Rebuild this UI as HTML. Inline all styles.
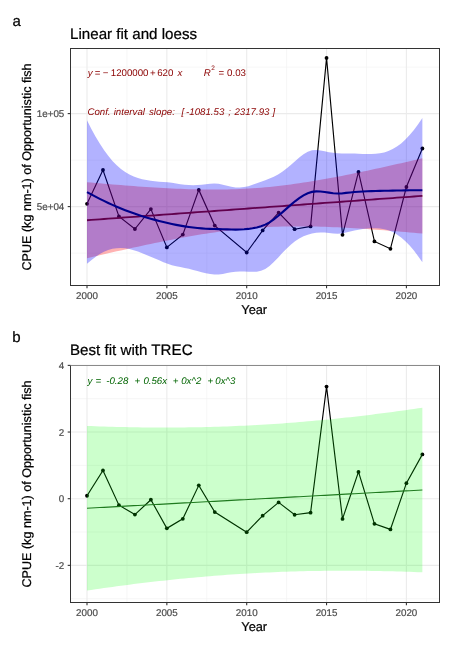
<!DOCTYPE html><html><head><meta charset="utf-8"><style>html,body{margin:0;padding:0;background:#fff}svg{display:block;will-change:transform}text{font-family:"Liberation Sans",sans-serif;text-rendering:geometricPrecision}</style></head><body>
<svg width="452" height="646" viewBox="0 0 452 646">
<rect width="452" height="646" fill="#fff"/>
<defs><clipPath id="c1"><rect x="70.5" y="48.5" width="369.0" height="237.0"/></clipPath></defs>
<line x1="70.5" x2="439.5" y1="67.10" y2="67.10" stroke="#f0f0f0" stroke-width="0.6"/>
<line x1="70.5" x2="439.5" y1="160.10" y2="160.10" stroke="#f0f0f0" stroke-width="0.6"/>
<line x1="70.5" x2="439.5" y1="253.10" y2="253.10" stroke="#f0f0f0" stroke-width="0.6"/>
<line y1="48.5" y2="285.5" x1="126.93" x2="126.93" stroke="#f0f0f0" stroke-width="0.6"/>
<line y1="48.5" y2="285.5" x1="206.78" x2="206.78" stroke="#f0f0f0" stroke-width="0.6"/>
<line y1="48.5" y2="285.5" x1="286.62" x2="286.62" stroke="#f0f0f0" stroke-width="0.6"/>
<line y1="48.5" y2="285.5" x1="366.48" x2="366.48" stroke="#f0f0f0" stroke-width="0.6"/>
<line x1="70.5" x2="439.5" y1="113.60" y2="113.60" stroke="#ebebeb" stroke-width="1.1"/>
<line x1="70.5" x2="439.5" y1="206.60" y2="206.60" stroke="#ebebeb" stroke-width="1.1"/>
<line y1="48.5" y2="285.5" x1="87.00" x2="87.00" stroke="#ebebeb" stroke-width="1.1"/>
<line y1="48.5" y2="285.5" x1="166.85" x2="166.85" stroke="#ebebeb" stroke-width="1.1"/>
<line y1="48.5" y2="285.5" x1="246.70" x2="246.70" stroke="#ebebeb" stroke-width="1.1"/>
<line y1="48.5" y2="285.5" x1="326.55" x2="326.55" stroke="#ebebeb" stroke-width="1.1"/>
<line y1="48.5" y2="285.5" x1="406.40" x2="406.40" stroke="#ebebeb" stroke-width="1.1"/>
<g clip-path="url(#c1)">
<polyline points="87.00,203.80 102.97,170.00 118.94,216.40 134.91,229.00 150.88,209.10 166.85,247.40 182.82,234.60 198.79,189.90 214.76,225.60 246.70,252.50 262.67,230.40 278.64,212.70 294.61,229.20 310.58,226.40 326.55,57.90 342.52,234.80 358.49,171.90 374.46,241.40 390.43,248.80 406.40,187.00 422.37,148.50" fill="none" stroke="#000" stroke-width="1.15"/>
<circle cx="87.00" cy="203.80" r="1.9" fill="#000"/>
<circle cx="102.97" cy="170.00" r="1.9" fill="#000"/>
<circle cx="118.94" cy="216.40" r="1.9" fill="#000"/>
<circle cx="134.91" cy="229.00" r="1.9" fill="#000"/>
<circle cx="150.88" cy="209.10" r="1.9" fill="#000"/>
<circle cx="166.85" cy="247.40" r="1.9" fill="#000"/>
<circle cx="182.82" cy="234.60" r="1.9" fill="#000"/>
<circle cx="198.79" cy="189.90" r="1.9" fill="#000"/>
<circle cx="214.76" cy="225.60" r="1.9" fill="#000"/>
<circle cx="246.70" cy="252.50" r="1.9" fill="#000"/>
<circle cx="262.67" cy="230.40" r="1.9" fill="#000"/>
<circle cx="278.64" cy="212.70" r="1.9" fill="#000"/>
<circle cx="294.61" cy="229.20" r="1.9" fill="#000"/>
<circle cx="310.58" cy="226.40" r="1.9" fill="#000"/>
<circle cx="326.55" cy="57.90" r="1.9" fill="#000"/>
<circle cx="342.52" cy="234.80" r="1.9" fill="#000"/>
<circle cx="358.49" cy="171.90" r="1.9" fill="#000"/>
<circle cx="374.46" cy="241.40" r="1.9" fill="#000"/>
<circle cx="390.43" cy="248.80" r="1.9" fill="#000"/>
<circle cx="406.40" cy="187.00" r="1.9" fill="#000"/>
<circle cx="422.37" cy="148.50" r="1.9" fill="#000"/>
<path d="M87.00,182.19 91.25,182.58 95.49,182.96 99.74,183.33 103.98,183.70 108.23,184.06 112.47,184.42 116.72,184.76 120.96,185.11 125.21,185.44 129.45,185.77 133.70,186.08 137.94,186.39 142.19,186.69 146.43,186.98 150.68,187.26 154.92,187.53 159.17,187.78 163.41,188.02 167.66,188.25 171.90,188.46 176.15,188.66 180.39,188.84 184.64,189.00 188.88,189.15 193.13,189.27 197.37,189.37 201.62,189.46 205.87,189.51 210.11,189.55 214.36,189.55 218.60,189.54 222.85,189.49 227.09,189.41 231.34,189.31 235.58,189.17 239.83,189.00 244.07,188.80 248.32,188.57 252.56,188.31 256.81,188.01 261.05,187.67 265.30,187.31 269.54,186.91 273.79,186.48 278.03,186.01 282.28,185.52 286.52,184.99 290.77,184.44 295.01,183.86 299.26,183.25 303.50,182.61 307.75,181.95 312.00,181.26 316.24,180.55 320.49,179.82 324.73,179.07 328.98,178.31 333.22,177.52 337.47,176.71 341.71,175.89 345.96,175.06 350.20,174.21 354.45,173.34 358.69,172.47 362.94,171.58 367.18,170.68 371.43,169.77 375.67,168.85 379.92,167.92 384.16,166.98 388.41,166.03 392.65,165.08 396.90,164.11 401.14,163.15 405.39,162.17 409.63,161.19 413.88,160.20 418.12,159.21 422.37,158.21 L422.37,233.53 418.12,233.15 413.88,232.78 409.63,232.41 405.39,232.04 401.14,231.68 396.90,231.33 392.65,230.98 388.41,230.65 384.16,230.32 379.92,229.99 375.67,229.68 371.43,229.38 367.18,229.08 362.94,228.80 358.69,228.53 354.45,228.27 350.20,228.02 345.96,227.79 341.71,227.57 337.47,227.36 333.22,227.17 328.98,227.00 324.73,226.85 320.49,226.72 316.24,226.60 312.00,226.51 307.75,226.44 303.50,226.40 299.26,226.38 295.01,226.39 290.77,226.42 286.52,226.48 282.28,226.57 278.03,226.69 273.79,226.85 269.54,227.03 265.30,227.25 261.05,227.50 256.81,227.78 252.56,228.10 248.32,228.45 244.07,228.84 239.83,229.25 235.58,229.70 231.34,230.18 227.09,230.69 222.85,231.23 218.60,231.80 214.36,232.40 210.11,233.03 205.87,233.68 201.62,234.35 197.37,235.05 193.13,235.77 188.88,236.51 184.64,237.27 180.39,238.05 176.15,238.85 171.90,239.66 167.66,240.49 163.41,241.33 159.17,242.19 154.92,243.06 150.68,243.94 146.43,244.84 142.19,245.74 137.94,246.66 133.70,247.59 129.45,248.52 125.21,249.46 120.96,250.41 116.72,251.37 112.47,252.34 108.23,253.31 103.98,254.29 99.74,255.27 95.49,256.26 91.25,257.26 87.00,258.26 Z" fill="#ff0000" fill-opacity="0.3"/>
<polyline points="87.00,220.23 91.25,219.92 95.49,219.61 99.74,219.30 103.98,218.99 108.23,218.69 112.47,218.38 116.72,218.07 120.96,217.76 125.21,217.45 129.45,217.14 133.70,216.84 137.94,216.53 142.19,216.22 146.43,215.91 150.68,215.60 154.92,215.29 159.17,214.99 163.41,214.68 167.66,214.37 171.90,214.06 176.15,213.75 180.39,213.44 184.64,213.14 188.88,212.83 193.13,212.52 197.37,212.21 201.62,211.90 205.87,211.59 210.11,211.29 214.36,210.98 218.60,210.67 222.85,210.36 227.09,210.05 231.34,209.75 235.58,209.44 239.83,209.13 244.07,208.82 248.32,208.51 252.56,208.20 256.81,207.90 261.05,207.59 265.30,207.28 269.54,206.97 273.79,206.66 278.03,206.35 282.28,206.05 286.52,205.74 290.77,205.43 295.01,205.12 299.26,204.81 303.50,204.50 307.75,204.20 312.00,203.89 316.24,203.58 320.49,203.27 324.73,202.96 328.98,202.65 333.22,202.35 337.47,202.04 341.71,201.73 345.96,201.42 350.20,201.11 354.45,200.80 358.69,200.50 362.94,200.19 367.18,199.88 371.43,199.57 375.67,199.26 379.92,198.96 384.16,198.65 388.41,198.34 392.65,198.03 396.90,197.72 401.14,197.41 405.39,197.11 409.63,196.80 413.88,196.49 418.12,196.18 422.37,195.87" fill="none" stroke="#8b0000" stroke-width="1.8"/>
<path d="M87.00,120.35 91.25,128.68 95.49,136.43 99.74,143.56 103.98,150.05 108.23,155.85 112.47,160.94 116.72,165.33 120.96,169.02 125.21,172.06 129.45,174.52 133.70,176.46 137.94,177.97 142.19,179.13 146.43,180.01 150.68,180.68 154.92,181.20 159.17,181.63 163.41,181.99 167.66,182.33 171.90,182.84 176.15,183.50 180.39,184.19 184.64,184.76 188.88,185.12 193.13,185.20 197.37,185.02 201.62,184.63 205.87,184.16 210.11,183.74 214.36,183.55 218.60,183.84 222.85,184.66 227.09,185.72 231.34,186.72 235.58,187.40 239.83,187.56 244.07,187.12 248.32,186.14 252.56,184.76 256.81,183.19 261.05,181.65 265.30,180.24 269.54,178.62 273.79,176.70 278.03,174.41 282.28,171.70 286.52,168.54 290.77,165.00 295.01,161.26 299.26,157.57 303.50,154.27 307.75,151.73 312.00,150.32 316.24,150.02 320.49,150.47 324.73,151.27 328.98,152.14 333.22,152.86 337.47,153.32 341.71,153.46 345.96,153.38 350.20,153.42 354.45,153.54 358.69,153.71 362.94,153.88 367.18,154.00 371.43,153.98 375.67,153.77 379.92,153.27 384.16,152.38 388.41,151.03 392.65,149.12 396.90,146.58 401.14,143.38 405.39,139.52 409.63,135.02 413.88,129.90 418.12,124.22 422.37,118.00 L422.37,262.36 418.12,256.16 413.88,250.55 409.63,245.54 405.39,241.18 401.14,237.48 396.90,234.46 392.65,232.10 388.41,230.36 384.16,229.17 379.92,228.48 375.67,228.20 371.43,228.25 367.18,228.58 362.94,229.11 358.69,229.80 354.45,230.60 350.20,231.49 345.96,232.44 341.71,233.41 337.47,233.79 333.22,233.54 328.98,233.04 324.73,232.60 320.49,232.45 316.24,232.71 312.00,233.45 307.75,234.67 303.50,236.35 299.26,238.55 295.01,241.34 290.77,244.74 286.52,248.70 282.28,253.09 278.03,257.65 273.79,262.07 269.54,265.98 265.30,269.01 261.05,270.82 256.81,271.64 252.56,271.84 248.32,271.69 244.07,271.50 239.83,271.49 235.58,271.77 231.34,272.35 227.09,273.11 222.85,273.88 218.60,274.41 214.36,274.50 210.11,274.06 205.87,273.22 201.62,272.15 197.37,270.99 193.13,269.88 188.88,268.86 184.64,267.96 180.39,267.12 176.15,266.23 171.90,265.17 167.66,263.80 163.41,262.13 159.17,260.37 154.92,258.55 150.68,256.71 146.43,254.89 142.19,253.15 137.94,251.54 133.70,250.15 129.45,249.04 125.21,248.29 120.96,247.97 116.72,248.14 112.47,248.82 108.23,250.05 103.98,251.81 99.74,254.10 95.49,256.89 91.25,260.14 87.00,263.81 Z" fill="#0000ff" fill-opacity="0.3"/>
<polyline points="87.00,192.08 91.25,194.41 95.49,196.66 99.74,198.83 103.98,200.93 108.23,202.95 112.47,204.88 116.72,206.73 120.96,208.50 125.21,210.18 129.45,211.78 133.70,213.30 137.94,214.76 142.19,216.14 146.43,217.45 150.68,218.70 154.92,219.88 159.17,221.00 163.41,222.06 167.66,223.07 171.90,224.00 176.15,224.87 180.39,225.65 184.64,226.36 188.88,226.99 193.13,227.54 197.37,228.01 201.62,228.39 205.87,228.69 210.11,228.90 214.36,229.02 218.60,229.12 222.85,229.27 227.09,229.42 231.34,229.54 235.58,229.58 239.83,229.52 244.07,229.31 248.32,228.92 252.56,228.30 256.81,227.42 261.05,226.23 265.30,224.62 269.54,222.30 273.79,219.39 278.03,216.03 282.28,212.39 286.52,208.62 290.77,204.87 295.01,201.30 299.26,198.06 303.50,195.31 307.75,193.20 312.00,191.88 316.24,191.37 320.49,191.46 324.73,191.94 328.98,192.59 333.22,193.20 337.47,193.55 341.71,193.43 345.96,192.91 350.20,192.45 354.45,192.07 358.69,191.75 362.94,191.50 367.18,191.29 371.43,191.12 375.67,190.98 379.92,190.87 384.16,190.78 388.41,190.69 392.65,190.61 396.90,190.52 401.14,190.43 405.39,190.35 409.63,190.28 413.88,190.22 418.12,190.19 422.37,190.18" fill="none" stroke="#00008b" stroke-width="2.1"/>
</g>
<path d="M70.0,285.5H440.0M70.5,48.0V286.0M439.5,48.0V286.0" fill="none" stroke="#333" stroke-width="1"/>
<path d="M70.0,48.5H440.0" fill="none" stroke="#333" stroke-width="1"/>
<line y1="285.5" y2="288.3" x1="87.00" x2="87.00" stroke="#333" stroke-width="1.1"/>
<text x="87.00" y="298.80" font-size="9.8" fill="#4d4d4d" stroke="#4d4d4d" stroke-width="0.22" text-anchor="middle">2000</text>
<line y1="285.5" y2="288.3" x1="166.85" x2="166.85" stroke="#333" stroke-width="1.1"/>
<text x="166.85" y="298.80" font-size="9.8" fill="#4d4d4d" stroke="#4d4d4d" stroke-width="0.22" text-anchor="middle">2005</text>
<line y1="285.5" y2="288.3" x1="246.70" x2="246.70" stroke="#333" stroke-width="1.1"/>
<text x="246.70" y="298.80" font-size="9.8" fill="#4d4d4d" stroke="#4d4d4d" stroke-width="0.22" text-anchor="middle">2010</text>
<line y1="285.5" y2="288.3" x1="326.55" x2="326.55" stroke="#333" stroke-width="1.1"/>
<text x="326.55" y="298.80" font-size="9.8" fill="#4d4d4d" stroke="#4d4d4d" stroke-width="0.22" text-anchor="middle">2015</text>
<line y1="285.5" y2="288.3" x1="406.40" x2="406.40" stroke="#333" stroke-width="1.1"/>
<text x="406.40" y="298.80" font-size="9.8" fill="#4d4d4d" stroke="#4d4d4d" stroke-width="0.22" text-anchor="middle">2020</text>
<line x1="67.7" x2="70.5" y1="113.60" y2="113.60" stroke="#333" stroke-width="1.1"/>
<text x="64.3" y="117.10" font-size="9.8" fill="#4d4d4d" stroke="#4d4d4d" stroke-width="0.22" text-anchor="end">1e+05</text>
<line x1="67.7" x2="70.5" y1="206.60" y2="206.60" stroke="#333" stroke-width="1.1"/>
<text x="64.3" y="210.10" font-size="9.8" fill="#4d4d4d" stroke="#4d4d4d" stroke-width="0.22" text-anchor="end">5e+04</text>
<text x="254.20" y="314.40" font-size="12.8" fill="#000" stroke="#000" stroke-width="0.22" text-anchor="middle">Year</text>
<text transform="translate(31,167.00) rotate(-90)" x="0" y="0" font-size="12.6" fill="#000" stroke="#000" stroke-width="0.22" text-anchor="middle">CPUE (kg nm-1) of Opportunistic fish</text>
<text x="12.4" y="25.6" font-size="15" fill="#000" stroke="#000" stroke-width="0.22">a</text>
<text x="70" y="38.9" font-size="15.15" fill="#000" stroke="#000" stroke-width="0.22">Linear fit and loess</text>
<text x="87.8" y="75.6" font-size="9.7" font-style="italic" fill="#8b0000" stroke="#8b0000" stroke-width="0.0">y</text>
<text x="94.8" y="75.6" font-size="9.7" font-style="normal" fill="#8b0000" stroke="#8b0000" stroke-width="0.0">=</text>
<text x="102.7" y="75.6" font-size="9.7" font-style="normal" fill="#8b0000" stroke="#8b0000" stroke-width="0.0">&#8722;</text>
<text x="110.8" y="75.6" font-size="9.7" font-style="normal" fill="#8b0000" stroke="#8b0000" stroke-width="0.0">1200000</text>
<text x="150.1" y="75.6" font-size="9.7" font-style="normal" fill="#8b0000" stroke="#8b0000" stroke-width="0.0">+</text>
<text x="157.2" y="75.6" font-size="9.7" font-style="normal" fill="#8b0000" stroke="#8b0000" stroke-width="0.0">620</text>
<text x="177.6" y="75.6" font-size="9.7" font-style="italic" fill="#8b0000" stroke="#8b0000" stroke-width="0.0">x</text>
<text x="203.7" y="75.6" font-size="9.7" font-style="italic" fill="#8b0000" stroke="#8b0000" stroke-width="0.0">R</text>
<text x="218.4" y="75.6" font-size="9.7" font-style="normal" fill="#8b0000" stroke="#8b0000" stroke-width="0.0">=</text>
<text x="227.1" y="75.6" font-size="9.7" font-style="normal" fill="#8b0000" stroke="#8b0000" stroke-width="0.0">0.03</text>
<text x="211.3" y="69.6" font-size="6.5" fill="#8b0000" stroke="#8b0000" stroke-width="0.0">2</text>
<text x="87.4" y="114.5" font-size="9.7" font-style="italic" fill="#8b0000" stroke="#8b0000" stroke-width="0.0">Conf.</text>
<text x="113.7" y="114.5" font-size="9.7" font-style="italic" fill="#8b0000" stroke="#8b0000" stroke-width="0.0">interval</text>
<text x="149" y="114.5" font-size="9.7" font-style="italic" fill="#8b0000" stroke="#8b0000" stroke-width="0.0">slope:</text>
<text x="181.5" y="114.5" font-size="9.7" font-style="italic" fill="#8b0000" stroke="#8b0000" stroke-width="0.0">[</text>
<text x="186.1" y="114.5" font-size="9.7" font-style="italic" fill="#8b0000" stroke="#8b0000" stroke-width="0.0">-1081.53</text>
<text x="228.3" y="114.5" font-size="9.7" font-style="italic" fill="#8b0000" stroke="#8b0000" stroke-width="0.0">;</text>
<text x="234.4" y="114.5" font-size="9.7" font-style="italic" fill="#8b0000" stroke="#8b0000" stroke-width="0.0">2317.93</text>
<text x="272.5" y="114.5" font-size="9.7" font-style="italic" fill="#8b0000" stroke="#8b0000" stroke-width="0.0">]</text>
<defs><clipPath id="c2"><rect x="70.5" y="365.5" width="369.0" height="237.0"/></clipPath></defs>
<line x1="70.5" x2="439.5" y1="398.71" y2="398.71" stroke="#f0f0f0" stroke-width="0.6"/>
<line x1="70.5" x2="439.5" y1="465.37" y2="465.37" stroke="#f0f0f0" stroke-width="0.6"/>
<line x1="70.5" x2="439.5" y1="532.03" y2="532.03" stroke="#f0f0f0" stroke-width="0.6"/>
<line x1="70.5" x2="439.5" y1="598.69" y2="598.69" stroke="#f0f0f0" stroke-width="0.6"/>
<line y1="365.5" y2="602.5" x1="126.93" x2="126.93" stroke="#f0f0f0" stroke-width="0.6"/>
<line y1="365.5" y2="602.5" x1="206.78" x2="206.78" stroke="#f0f0f0" stroke-width="0.6"/>
<line y1="365.5" y2="602.5" x1="286.62" x2="286.62" stroke="#f0f0f0" stroke-width="0.6"/>
<line y1="365.5" y2="602.5" x1="366.48" x2="366.48" stroke="#f0f0f0" stroke-width="0.6"/>
<line x1="70.5" x2="439.5" y1="365.38" y2="365.38" stroke="#ebebeb" stroke-width="1.1"/>
<line x1="70.5" x2="439.5" y1="432.04" y2="432.04" stroke="#ebebeb" stroke-width="1.1"/>
<line x1="70.5" x2="439.5" y1="498.70" y2="498.70" stroke="#ebebeb" stroke-width="1.1"/>
<line x1="70.5" x2="439.5" y1="565.36" y2="565.36" stroke="#ebebeb" stroke-width="1.1"/>
<line y1="365.5" y2="602.5" x1="87.00" x2="87.00" stroke="#ebebeb" stroke-width="1.1"/>
<line y1="365.5" y2="602.5" x1="166.85" x2="166.85" stroke="#ebebeb" stroke-width="1.1"/>
<line y1="365.5" y2="602.5" x1="246.70" x2="246.70" stroke="#ebebeb" stroke-width="1.1"/>
<line y1="365.5" y2="602.5" x1="326.55" x2="326.55" stroke="#ebebeb" stroke-width="1.1"/>
<line y1="365.5" y2="602.5" x1="406.40" x2="406.40" stroke="#ebebeb" stroke-width="1.1"/>
<g clip-path="url(#c2)">
<polyline points="87.00,495.74 102.97,470.46 118.94,505.17 134.91,514.59 150.88,499.71 166.85,528.36 182.82,518.78 198.79,485.35 214.76,512.05 246.70,532.17 262.67,515.64 278.64,502.40 294.61,514.74 310.58,512.65 326.55,386.61 342.52,518.93 358.49,471.88 374.46,523.87 390.43,529.40 406.40,483.18 422.37,454.38" fill="none" stroke="#000" stroke-width="1.15"/>
<circle cx="87.00" cy="495.74" r="1.9" fill="#000"/>
<circle cx="102.97" cy="470.46" r="1.9" fill="#000"/>
<circle cx="118.94" cy="505.17" r="1.9" fill="#000"/>
<circle cx="134.91" cy="514.59" r="1.9" fill="#000"/>
<circle cx="150.88" cy="499.71" r="1.9" fill="#000"/>
<circle cx="166.85" cy="528.36" r="1.9" fill="#000"/>
<circle cx="182.82" cy="518.78" r="1.9" fill="#000"/>
<circle cx="198.79" cy="485.35" r="1.9" fill="#000"/>
<circle cx="214.76" cy="512.05" r="1.9" fill="#000"/>
<circle cx="246.70" cy="532.17" r="1.9" fill="#000"/>
<circle cx="262.67" cy="515.64" r="1.9" fill="#000"/>
<circle cx="278.64" cy="502.40" r="1.9" fill="#000"/>
<circle cx="294.61" cy="514.74" r="1.9" fill="#000"/>
<circle cx="310.58" cy="512.65" r="1.9" fill="#000"/>
<circle cx="326.55" cy="386.61" r="1.9" fill="#000"/>
<circle cx="342.52" cy="518.93" r="1.9" fill="#000"/>
<circle cx="358.49" cy="471.88" r="1.9" fill="#000"/>
<circle cx="374.46" cy="523.87" r="1.9" fill="#000"/>
<circle cx="390.43" cy="529.40" r="1.9" fill="#000"/>
<circle cx="406.40" cy="483.18" r="1.9" fill="#000"/>
<circle cx="422.37" cy="454.38" r="1.9" fill="#000"/>
<path d="M87.00,425.93 91.25,426.10 95.49,426.25 99.74,426.40 103.98,426.54 108.23,426.67 112.47,426.79 116.72,426.91 120.96,427.01 125.21,427.10 129.45,427.19 133.70,427.26 137.94,427.33 142.19,427.39 146.43,427.44 150.68,427.47 154.92,427.50 159.17,427.52 163.41,427.53 167.66,427.52 171.90,427.51 176.15,427.49 180.39,427.46 184.64,427.41 188.88,427.36 193.13,427.29 197.37,427.22 201.62,427.13 205.87,427.03 210.11,426.93 214.36,426.81 218.60,426.68 222.85,426.54 227.09,426.38 231.34,426.22 235.58,426.04 239.83,425.86 244.07,425.66 248.32,425.45 252.56,425.23 256.81,425.00 261.05,424.76 265.30,424.51 269.54,424.25 273.79,423.97 278.03,423.68 282.28,423.39 286.52,423.08 290.77,422.76 295.01,422.43 299.26,422.08 303.50,421.73 307.75,421.37 312.00,420.99 316.24,420.61 320.49,420.21 324.73,419.80 328.98,419.39 333.22,418.96 337.47,418.52 341.71,418.07 345.96,417.61 350.20,417.14 354.45,416.67 358.69,416.18 362.94,415.68 367.18,415.17 371.43,414.65 375.67,414.12 379.92,413.59 384.16,413.04 388.41,412.48 392.65,411.92 396.90,411.35 401.14,410.76 405.39,410.17 409.63,409.57 413.88,408.96 418.12,408.35 422.37,407.72 L422.37,572.30 418.12,572.14 413.88,571.99 409.63,571.84 405.39,571.70 401.14,571.57 396.90,571.45 392.65,571.33 388.41,571.23 384.16,571.14 379.92,571.05 375.67,570.98 371.43,570.91 367.18,570.85 362.94,570.80 358.69,570.77 354.45,570.74 350.20,570.72 345.96,570.71 341.71,570.72 337.47,570.73 333.22,570.75 328.98,570.78 324.73,570.83 320.49,570.88 316.24,570.95 312.00,571.02 307.75,571.11 303.50,571.21 299.26,571.32 295.01,571.43 290.77,571.57 286.52,571.71 282.28,571.86 278.03,572.02 273.79,572.20 269.54,572.38 265.30,572.58 261.05,572.79 256.81,573.01 252.56,573.24 248.32,573.48 244.07,573.73 239.83,574.00 235.58,574.27 231.34,574.56 227.09,574.86 222.85,575.17 218.60,575.49 214.36,575.82 210.11,576.16 205.87,576.51 201.62,576.88 197.37,577.25 193.13,577.64 188.88,578.03 184.64,578.44 180.39,578.86 176.15,579.28 171.90,579.72 167.66,580.17 163.41,580.63 159.17,581.10 154.92,581.58 150.68,582.07 146.43,582.57 142.19,583.08 137.94,583.59 133.70,584.12 129.45,584.66 125.21,585.20 120.96,585.76 116.72,586.33 112.47,586.90 108.23,587.48 103.98,588.07 99.74,588.67 95.49,589.28 91.25,589.90 87.00,590.52 Z" fill="#00ff00" fill-opacity="0.2"/>
<polyline points="87.00,508.23 91.25,508.00 95.49,507.77 99.74,507.54 103.98,507.31 108.23,507.08 112.47,506.85 116.72,506.62 120.96,506.38 125.21,506.15 129.45,505.92 133.70,505.69 137.94,505.46 142.19,505.23 146.43,505.00 150.68,504.77 154.92,504.54 159.17,504.31 163.41,504.08 167.66,503.85 171.90,503.62 176.15,503.39 180.39,503.16 184.64,502.93 188.88,502.70 193.13,502.46 197.37,502.23 201.62,502.00 205.87,501.77 210.11,501.54 214.36,501.31 218.60,501.08 222.85,500.85 227.09,500.62 231.34,500.39 235.58,500.16 239.83,499.93 244.07,499.70 248.32,499.47 252.56,499.24 256.81,499.01 261.05,498.78 265.30,498.54 269.54,498.31 273.79,498.08 278.03,497.85 282.28,497.62 286.52,497.39 290.77,497.16 295.01,496.93 299.26,496.70 303.50,496.47 307.75,496.24 312.00,496.01 316.24,495.78 320.49,495.55 324.73,495.32 328.98,495.09 333.22,494.86 337.47,494.62 341.71,494.39 345.96,494.16 350.20,493.93 354.45,493.70 358.69,493.47 362.94,493.24 367.18,493.01 371.43,492.78 375.67,492.55 379.92,492.32 384.16,492.09 388.41,491.86 392.65,491.63 396.90,491.40 401.14,491.17 405.39,490.93 409.63,490.70 413.88,490.47 418.12,490.24 422.37,490.01" fill="none" stroke="#1f7a1f" stroke-width="1.15"/>
</g>
<path d="M70.0,602.5H440.0M70.5,365.0V603.0M439.5,365.0V603.0" fill="none" stroke="#333" stroke-width="1"/>
<path d="M70.0,365.5H440.0" fill="none" stroke="#8a8a8a" stroke-width="1"/>
<line y1="602.5" y2="605.3" x1="87.00" x2="87.00" stroke="#333" stroke-width="1.1"/>
<text x="87.00" y="615.80" font-size="9.8" fill="#4d4d4d" stroke="#4d4d4d" stroke-width="0.22" text-anchor="middle">2000</text>
<line y1="602.5" y2="605.3" x1="166.85" x2="166.85" stroke="#333" stroke-width="1.1"/>
<text x="166.85" y="615.80" font-size="9.8" fill="#4d4d4d" stroke="#4d4d4d" stroke-width="0.22" text-anchor="middle">2005</text>
<line y1="602.5" y2="605.3" x1="246.70" x2="246.70" stroke="#333" stroke-width="1.1"/>
<text x="246.70" y="615.80" font-size="9.8" fill="#4d4d4d" stroke="#4d4d4d" stroke-width="0.22" text-anchor="middle">2010</text>
<line y1="602.5" y2="605.3" x1="326.55" x2="326.55" stroke="#333" stroke-width="1.1"/>
<text x="326.55" y="615.80" font-size="9.8" fill="#4d4d4d" stroke="#4d4d4d" stroke-width="0.22" text-anchor="middle">2015</text>
<line y1="602.5" y2="605.3" x1="406.40" x2="406.40" stroke="#333" stroke-width="1.1"/>
<text x="406.40" y="615.80" font-size="9.8" fill="#4d4d4d" stroke="#4d4d4d" stroke-width="0.22" text-anchor="middle">2020</text>
<line x1="67.7" x2="70.5" y1="365.38" y2="365.38" stroke="#333" stroke-width="1.1"/>
<text x="64.3" y="368.88" font-size="9.8" fill="#4d4d4d" stroke="#4d4d4d" stroke-width="0.22" text-anchor="end">4</text>
<line x1="67.7" x2="70.5" y1="432.04" y2="432.04" stroke="#333" stroke-width="1.1"/>
<text x="64.3" y="435.54" font-size="9.8" fill="#4d4d4d" stroke="#4d4d4d" stroke-width="0.22" text-anchor="end">2</text>
<line x1="67.7" x2="70.5" y1="498.70" y2="498.70" stroke="#333" stroke-width="1.1"/>
<text x="64.3" y="502.20" font-size="9.8" fill="#4d4d4d" stroke="#4d4d4d" stroke-width="0.22" text-anchor="end">0</text>
<line x1="67.7" x2="70.5" y1="565.36" y2="565.36" stroke="#333" stroke-width="1.1"/>
<text x="64.3" y="568.86" font-size="9.8" fill="#4d4d4d" stroke="#4d4d4d" stroke-width="0.22" text-anchor="end">-2</text>
<text x="254.20" y="631.40" font-size="12.8" fill="#000" stroke="#000" stroke-width="0.22" text-anchor="middle">Year</text>
<text transform="translate(31,484.00) rotate(-90)" x="0" y="0" font-size="12.6" fill="#000" stroke="#000" stroke-width="0.22" text-anchor="middle">CPUE (kg nm-1) of Opportunistic fish</text>
<text x="12.2" y="342.3" font-size="15" fill="#000" stroke="#000" stroke-width="0.22">b</text>
<text x="70" y="355.3" font-size="15.15" fill="#000" stroke="#000" stroke-width="0.22">Best fit with TREC</text>
<text x="87.6" y="383.8" font-size="9.7" font-style="italic" fill="#006400" stroke="#006400" stroke-width="0.0">y</text>
<text x="95.4" y="383.8" font-size="9.7" font-style="italic" fill="#006400" stroke="#006400" stroke-width="0.0">=</text>
<text x="106.2" y="383.8" font-size="9.7" font-style="italic" fill="#006400" stroke="#006400" stroke-width="0.0">-0.28</text>
<text x="134.4" y="383.8" font-size="9.7" font-style="italic" fill="#006400" stroke="#006400" stroke-width="0.0">+</text>
<text x="143.4" y="383.8" font-size="9.7" font-style="italic" fill="#006400" stroke="#006400" stroke-width="0.0">0.56x</text>
<text x="172.8" y="383.8" font-size="9.7" font-style="italic" fill="#006400" stroke="#006400" stroke-width="0.0">+</text>
<text x="181.2" y="383.8" font-size="9.7" font-style="italic" fill="#006400" stroke="#006400" stroke-width="0.0">0x^2</text>
<text x="207.4" y="383.8" font-size="9.7" font-style="italic" fill="#006400" stroke="#006400" stroke-width="0.0">+</text>
<text x="215.3" y="383.8" font-size="9.7" font-style="italic" fill="#006400" stroke="#006400" stroke-width="0.0">0x^3</text>
</svg></body></html>
